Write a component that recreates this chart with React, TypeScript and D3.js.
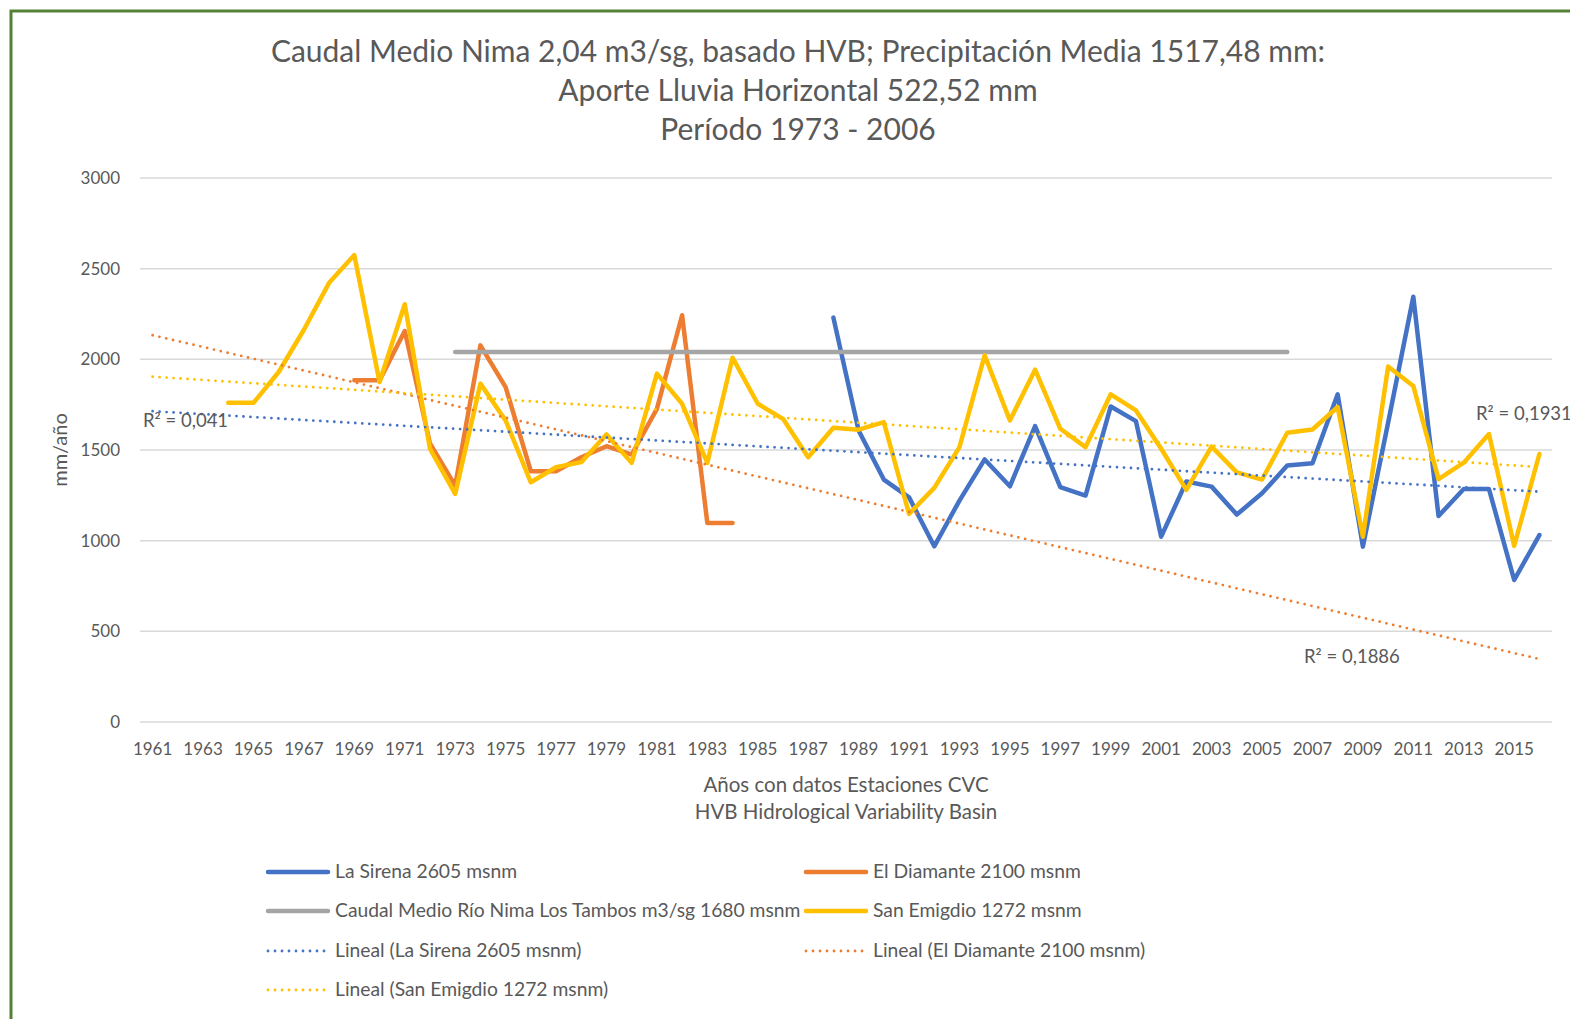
import React from 'react';
import * as d3 from 'd3';

// categories
const years = d3.range(1961, 2017);
const tickYears = years.filter((y, i) => i % 2 === 0);
const yTicks = [0, 500, 1000, 1500, 2000, 2500, 3000];

// series (mm/año)
const laSirenaStart = 1988;
const laSirena = [2230, 1608, 1337, 1239, 969, 1221, 1448, 1300, 1632, 1295, 1249, 1740, 1659, 1022, 1326, 1298, 1144, 1261, 1414, 1427, 1807, 967, 1650, 2345, 1136, 1285, 1285, 783, 1031];

const diamanteStart = 1969;
const diamante = [1884, 1884, 2156, 1536, 1304, 2077, 1847, 1383, 1383, 1460, 1521, 1475, 1727, 2243, 1098, 1098];

const caudalStart = 1973;
const caudal = [2040, 2040, 2040, 2040, 2040, 2040, 2040, 2040, 2040, 2040, 2040, 2040, 2040, 2040, 2040, 2040, 2040, 2040, 2040, 2040, 2040, 2040, 2040, 2040, 2040, 2040, 2040, 2040, 2040, 2040, 2040, 2040, 2040, 2040];

const emigdioStart = 1964;
const emigdio = [1760, 1760, 1930, 2163, 2422, 2575, 1875, 2304, 1508, 1258, 1866, 1663, 1322, 1405, 1433, 1586, 1429, 1921, 1755, 1429, 2009, 1755, 1672, 1460, 1623, 1612, 1654, 1148, 1291, 1516, 2022, 1663, 1943, 1617, 1516, 1807, 1718, 1507, 1280, 1519, 1377, 1337, 1595, 1613, 1737, 1022, 1960, 1853, 1339, 1430, 1588, 971, 1478];

const titleLines = [
    'Caudal Medio Nima 2,04 m3/sg, basado HVB; Precipitación Media 1517,48 mm:',
    'Aporte Lluvia Horizontal 522,52 mm',
    'Período 1973 - 2006'
];

const BLUE = '#4472C4';
const ORANGE = '#ED7D31';
const GRAY = '#A5A5A5';
const YELLOW = '#FFC000';
const TEXT = '#595959';
const FONT = 'Lato, "Open Sans", sans-serif';

const toPoints = (start, vals) => vals.map((v, i) => ({ year: start + i, value: v }));

// excel style linear trend over category index
const trend = (pts) => {
    const xs = pts.map(p => p.year - 1960);
    const ys = pts.map(p => p.value);
    const mx = d3.mean(xs), my = d3.mean(ys);
    let sxy = 0, sxx = 0;
    for (let i = 0; i < xs.length; i++) {
        sxy += (xs[i] - mx) * (ys[i] - my);
        sxx += (xs[i] - mx) * (xs[i] - mx);
    }
    const b = sxy / sxx;
    const a = my - b * mx;
    return years.map(y => ({ year: y, value: a + b * (y - 1960) }));
};

export default function App() {
    const W = 1570, H = 1019;
    const left = 140, right = 1552, top = 178, bottom = 722;

    const x = d3.scalePoint().domain(years).range([left, right]).padding(0.5);
    const y = d3.scaleLinear().domain([0, 3000]).range([bottom, top]);
    const line = d3.line().x(d => x(d.year)).y(d => y(d.value));

    const sirenaPts = toPoints(laSirenaStart, laSirena);
    const diamantePts = toPoints(diamanteStart, diamante);
    const caudalPts = toPoints(caudalStart, caudal);
    const emigdioPts = toPoints(emigdioStart, emigdio);

    const series = [
        { pts: sirenaPts, color: BLUE },
        { pts: diamantePts, color: ORANGE },
        { pts: caudalPts, color: GRAY },
        { pts: emigdioPts, color: YELLOW }
    ];
    const trends = [
        { pts: trend(sirenaPts), color: BLUE },
        { pts: trend(diamantePts), color: ORANGE },
        { pts: trend(emigdioPts), color: YELLOW }
    ];

    const legend = [
        { label: 'La Sirena 2605 msnm', color: BLUE, dotted: false, col: 0, row: 0 },
        { label: 'El Diamante 2100 msnm', color: ORANGE, dotted: false, col: 1, row: 0 },
        { label: 'Caudal Medio Río Nima Los Tambos m3/sg 1680 msnm', color: GRAY, dotted: false, col: 0, row: 1 },
        { label: 'San Emigdio 1272 msnm', color: YELLOW, dotted: false, col: 1, row: 1 },
        { label: 'Lineal (La Sirena 2605 msnm)', color: BLUE, dotted: true, col: 0, row: 2 },
        { label: 'Lineal (El Diamante 2100 msnm)', color: ORANGE, dotted: true, col: 1, row: 2 },
        { label: 'Lineal (San Emigdio 1272 msnm)', color: YELLOW, dotted: true, col: 0, row: 3 }
    ];
    const legendX = [268, 806];
    const legendY = [872, 911, 951, 990];

    return (
        <svg width={W} height={H} style={{ position: 'absolute', left: 0, top: 0, background: '#fff' }} fontFamily={FONT}>
            <rect x={11} y={11} width={W + 20} height={H + 20} fill="#fff" stroke="#548235" strokeWidth={3} />

            {titleLines.map((t, i) => (
                <text key={i} x={798} y={62 + i * 39} textAnchor="middle" fontSize={30} fill={TEXT}>{t}</text>
            ))}

            {yTicks.map(t => (
                <g key={t}>
                    <line x1={left} x2={right} y1={y(t)} y2={y(t)} stroke="#d9d9d9" strokeWidth={1.5} />
                    <text x={120} y={y(t) + 6} textAnchor="end" fontSize={17} fill={TEXT}>{t}</text>
                </g>
            ))}

            {tickYears.map(t => (
                <text key={t} x={x(t)} y={755} textAnchor="middle" fontSize={17} fill={TEXT}>{t}</text>
            ))}

            <text transform="translate(67,450) rotate(-90)" textAnchor="middle" fontSize={20} fill={TEXT}>mm/año</text>
            <text x={(left + right) / 2} y={792} textAnchor="middle" fontSize={20.5} fill={TEXT}>Años con datos Estaciones CVC</text>
            <text x={(left + right) / 2} y={819} textAnchor="middle" fontSize={20.5} fill={TEXT}>HVB Hidrological Variability Basin</text>

            {series.map((s, i) => (
                <path key={i} d={line(s.pts)} fill="none" stroke={s.color} strokeWidth={4.5} strokeLinejoin="round" strokeLinecap="round" />
            ))}

            {trends.map((s, i) => (
                <path key={i} d={line(s.pts)} fill="none" stroke={s.color} strokeWidth={2.8} strokeDasharray="0 7" strokeLinecap="round" />
            ))}

            <text x={143} y={427} fontSize={18.5} fill={TEXT}>R² = 0,041</text>
            <text x={1476} y={420} fontSize={18.5} fill={TEXT}>R² = 0,1931</text>
            <text x={1304} y={663} fontSize={18.5} fill={TEXT}>R² = 0,1886</text>

            {legend.map((l, i) => {
                const lx = legendX[l.col], ly = legendY[l.row];
                return (
                    <g key={i}>
                        <line x1={lx} x2={lx + 60} y1={ly} y2={ly} stroke={l.color}
                            strokeWidth={l.dotted ? 2.8 : 4.5}
                            strokeDasharray={l.dotted ? '0 7' : undefined}
                            strokeLinecap="round" />
                        <text x={lx + 67} y={ly + 6} fontSize={19.3} fill={TEXT}>{l.label}</text>
                    </g>
                );
            })}
        </svg>
    );
}
